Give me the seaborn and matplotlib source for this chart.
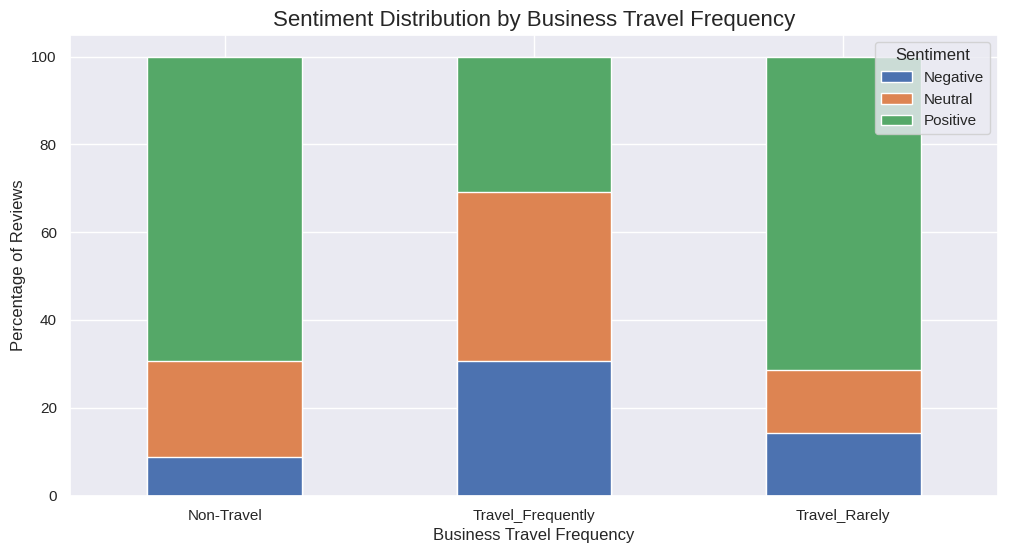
import matplotlib
matplotlib.use("Agg")
import matplotlib.pyplot as plt
import seaborn as sns
import pandas as pd
import numpy as np
from matplotlib.patches import Patch

categories = ["Non-Travel", "Travel_Frequently", "Travel_Rarely"]
negative = [8.8, 30.6, 14.25]
neutral = [21.95, 38.6, 14.25]
positive = [69.25, 30.8, 71.5]
sentiments = ["Negative", "Neutral", "Positive"]

sns.set_theme(style="darkgrid")
plt.rcParams["font.family"] = ["Liberation Sans", "DejaVu Sans"]

pal = sns.color_palette("deep")
colors = {"Negative": pal[0], "Neutral": pal[1], "Positive": pal[2]}

neg = np.array(negative)
neu = np.array(neutral)
pos = np.array(positive)
cum = {
    "Negative": neg,
    "Neutral": neg + neu,
    "Positive": neg + neu + pos,
}

fig = plt.figure(figsize=(10.09, 5.54), dpi=100)
ax = fig.add_axes([70 / 1009, 1 - 495.5 / 554, (998 - 70) / 1009, (495.5 - 34.7) / 554])

for s in ["Positive", "Neutral", "Negative"]:
    df = pd.DataFrame({"cat": categories, "val": cum[s]})
    sns.barplot(data=df, x="cat", y="val", color=colors[s], saturation=1,
                width=0.5, ax=ax, edgecolor="white", linewidth=1)

ax.set_xlim(-0.5, 2.5)
ax.set_ylim(0, 105)
ax.xaxis.grid(True)
ax.yaxis.grid(True)
ax.set_title("Sentiment Distribution by Business Travel Frequency", fontsize=16)
ax.set_xlabel("Business Travel Frequency", fontsize=12)
ax.set_ylabel("Percentage of Reviews", fontsize=12)
ax.tick_params(axis="both", labelsize=11)
ax.set_axisbelow(True)

handles = [Patch(facecolor=colors[s], edgecolor="white", label=s) for s in sentiments]
ax.legend(handles=handles, title="Sentiment", loc="upper right", fontsize=11, title_fontsize=12)

fig.savefig("out.png", dpi=100)
